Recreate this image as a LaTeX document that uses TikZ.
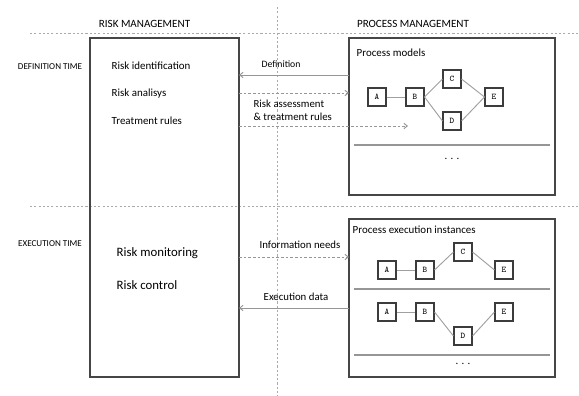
\documentclass[tikz,border=0pt]{standalone}
\usepackage{fontspec}
\setmainfont{Carlito}
\usetikzlibrary{arrows.meta, positioning}

\tikzset{
  lane/.style={draw={rgb, 255:red, 170; green, 170; blue, 170}, dash pattern=on 1.6pt off 1.6pt, line width=0.7pt},
  panel/.style={draw={rgb, 255:red, 70; green, 70; blue, 70}, line width=1pt, inner sep=0pt, outer sep=0pt},
  task/.style={draw={rgb, 255:red, 60; green, 60; blue, 60}, line width=0.8pt, fill=white, minimum size=13.5pt, inner sep=0pt, font=\ttfamily\fontsize{6.5}{7}\selectfont},
  link/.style={draw={rgb, 255:red, 160; green, 160; blue, 160}, line width=0.7pt},
  rule/.style={draw={rgb, 255:red, 150; green, 150; blue, 150}, line width=1pt},
  flow/.style={draw={rgb, 255:red, 150; green, 150; blue, 150}, line width=0.7pt, -{Straight Barb[length=2.5pt, width=4pt]}},
  dflow/.style={flow, dash pattern=on 2pt off 1.5pt},
  head/.style={font=\fontsize{8.3}{9}\selectfont},
  phase/.style={font=\fontsize{6.8}{7}\selectfont},
  item/.style={anchor=west, font=\fontsize{8.2}{9}\selectfont},
  bigitem/.style={anchor=west, font=\fontsize{9.6}{10}\selectfont},
  msg/.style={font=\fontsize{8.1}{9.6}\selectfont, inner sep=1pt}
}

\begin{document}
\begin{tikzpicture}[x=0.75pt,y=0.75pt,yscale=-1,xscale=1]
\useasboundingbox (0,0) rectangle (579,396);

%Lanes
\draw [lane] (30,33) -- (579,33) ;
\draw [lane] (30,206) -- (579,206) ;
\draw [lane] (277,7) -- (277,396) ;

%Headings
\node [head] (rmhead) at (144.5,24) {RISK MANAGEMENT};
\node [head] (pmhead) at (413,24) {PROCESS MANAGEMENT};
\node [phase] (deftime) at (50,67) {DEFINITION TIME};
\node [phase] (exetime) at (50,244) {EXECUTION TIME};

%Risk management panel
\node [panel, minimum width=111.75pt, minimum height=254.25pt] (risk) at (164.5,207.5) {};
\node [item] (ident) at (107,66) {Risk identification};
\node [item] (analysis) at (107,94) {Risk analisys};
\node [item] (treat) at (107,121) {Treatment rules};
\node [bigitem] (monitor) at (112,253) {Risk monitoring};
\node [bigitem] (control) at (112,285) {Risk control};

%Process models panel
\node [panel, minimum width=154.5pt, minimum height=117.75pt] (models) at (452,116.5) {};
\node [item] (modtitle) at (352,53) {Process models};
\node [task] (ma) at (377,97) {A};
\node [task] (mb) at (415,97) {B};
\node [task] (mc) at (452,79) {C};
\node [task] (md) at (452,121) {D};
\node [task] (me) at (494,97) {E};
\draw [link] (ma) -- (mb) ;
\draw [link] (mb.east) -- (mc.west) ;
\draw [link] (mb.east) -- (md.west) ;
\draw [link] (mc.east) -- (me.west) ;
\draw [link] (md.east) -- (me.west) ;
\draw [rule] (354,145) -- (550,145) ;
\node [msg] (moddots) at (452,159) {. . .};

%Process execution instances panel
\node [panel, minimum width=154.5pt, minimum height=118.5pt] (runs) at (452,298) {};
\node [item] (runtitle) at (348,230) {Process execution instances};
\node [task] (ra) at (387,270) {A};
\node [task] (rb) at (425,270) {B};
\node [task] (rc) at (463,252) {C};
\node [task] (re) at (504,270) {E};
\draw [link] (ra) -- (rb) ;
\draw [link] (rb.east) -- (rc.west) ;
\draw [link] (rc.east) -- (re.west) ;
\draw [rule] (354,289) -- (550,289) ;
\node [task] (sa) at (387,312) {A};
\node [task] (sb) at (425,312) {B};
\node [task] (sd) at (463,336) {D};
\node [task] (se) at (504,312) {E};
\draw [link] (sa) -- (sb) ;
\draw [link] (sb.east) -- (sd.west) ;
\draw [link] (sd.east) -- (se.west) ;
\draw [rule] (354,355) -- (550,355) ;
\node [msg] (rundots) at (463,364) {. . .};

%Exchanges
\coordinate (rulesend) at (408,126);
\draw [flow] (models.west |- 0,75) -- (risk.east |- 0,75) ;
\node [msg] (deflbl) at (281,64) {\fontsize{7.3}{8}\selectfont Definition};
\draw [dflow] (risk.east |- 0,93) -- (models.west |- 0,93) ;
\draw [dflow] (risk.east |- rulesend) -- (rulesend) ;
\node [msg, align=left, anchor=west] (assesslbl) at (252,110) {Risk assessment\\\& treatment rules};
\draw [dflow] (risk.east |- 0,257) -- (runs.west |- 0,257) ;
\node [msg] (needlbl) at (300,245) {Information needs};
\draw [flow] (runs.west |- 0,308) -- (risk.east |- 0,308) ;
\node [msg] (datalbl) at (296,297) {Execution data};

\end{tikzpicture}
\end{document}
